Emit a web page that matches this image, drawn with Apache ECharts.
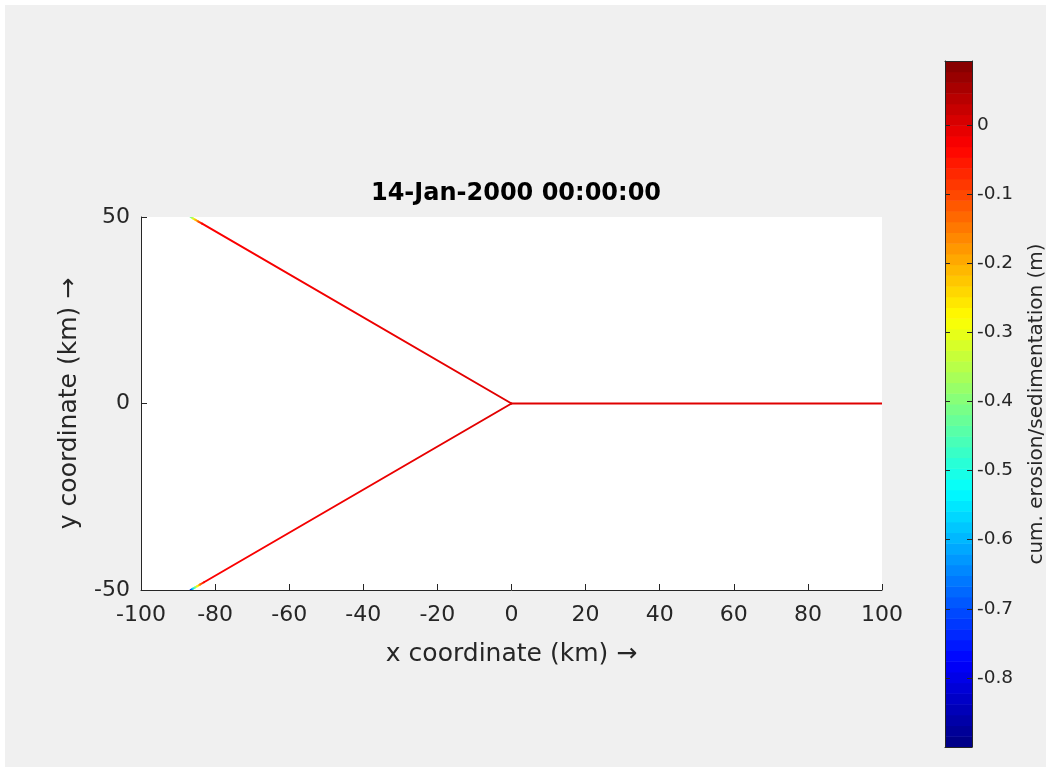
<!DOCTYPE html>
<html>
<head>
<meta charset="utf-8">
<title>cum. erosion/sedimentation</title>
<script src="https://cdn.jsdelivr.net/npm/echarts@6/dist/echarts.min.js"></script>
<style>
  html, body { margin: 0; padding: 0; background: #ffffff; }
  #chart { width: 1051px; height: 772px; }
</style>
</head>
<body>
<div id="chart"></div>
<script>
// data (km, and m for the colour value)
var upperX = [0, -83.5, -84.5, -85.3, -86.0, -86.6];
var upperY = [0, 48.21, 48.79, 49.25, 49.65, 50.0];
var upperV = [0, -0.03, -0.12, -0.22, -0.32, -0.42];

var lowerX = [0, -83.0, -84.0, -84.8, -85.5, -86.1, -86.6];
var lowerY = [0, -47.92, -48.50, -48.96, -49.36, -49.71, -50.0];
var lowerV = [0, -0.03, -0.13, -0.27, -0.42, -0.57, -0.75];

var rightX = [0, 100];
var rightY = [0, 0];
var rightV = [0, 0];

// colour limits and colorbar ticks
var cMin = -0.9;
var cMax = 0.0926;
var nLevels = 64;
var jetColors = ['#000080', '#0000ff', '#0080ff', '#00ffff', '#80ff80', '#ffff00', '#ff8000', '#ff0000', '#800000'];

function hexRgb(h) {
  return [parseInt(h.substr(1, 2), 16), parseInt(h.substr(3, 2), 16), parseInt(h.substr(5, 2), 16)];
}
function jet(v) {
  var t = (v - cMin) / (cMax - cMin);
  t = Math.max(0, Math.min(1, t));
  var p = t * (jetColors.length - 1);
  var i = Math.min(Math.floor(p), jetColors.length - 2);
  var f = p - i;
  var a = hexRgb(jetColors[i]), b = hexRgb(jetColors[i + 1]);
  return 'rgb(' + Math.round(a[0] + (b[0] - a[0]) * f) + ',' +
    Math.round(a[1] + (b[1] - a[1]) * f) + ',' +
    Math.round(a[2] + (b[2] - a[2]) * f) + ')';
}

// segments [x1, y1, x2, y2, v1, v2]
var segs = [];
function addBranch(xs, ys, vs) {
  for (var i = 0; i < xs.length - 1; i++) {
    segs.push([xs[i], ys[i], xs[i + 1], ys[i + 1], vs[i], vs[i + 1]]);
  }
}
addBranch(upperX, upperY, upperV);
addBranch(lowerX, lowerY, lowerV);
addBranch(rightX, rightY, rightV);

// colorbar bands
var bands = [];
for (var k = 0; k < nLevels; k++) {
  var lo = cMin + (cMax - cMin) * k / nLevels;
  var hi = cMin + (cMax - cMin) * (k + 1) / nLevels;
  bands.push([lo, hi, (lo + hi) / 2]);
}

var axisCol = '#262626';
var chart = echarts.init(document.getElementById('chart'));

var option = {
  backgroundColor: '#ffffff',
  animation: false,
  textStyle: { fontFamily: 'DejaVu Sans' },
  title: {
    text: '14-Jan-2000 00:00:00',
    left: 511,
    textAlign: 'center',
    top: 177,
    textStyle: { fontFamily: 'DejaVu Sans', fontSize: 24, fontWeight: 'bold', color: '#000' }
  },
  grid: [
    { left: 141, top: 217, width: 741, height: 373, show: true, backgroundColor: '#fff', borderWidth: 0 },
    { left: 945, top: 61, width: 27, height: 686 }
  ],
  xAxis: [
    {
      gridIndex: 0, type: 'value', min: -100, max: 100, interval: 20,
      position: 'bottom',
      name: 'x coordinate (km) \u2192', nameLocation: 'middle', nameGap: 52,
      nameTextStyle: { fontSize: 25, color: axisCol },
      axisLine: { show: true, onZero: false, lineStyle: { color: axisCol, width: 1 } },
      axisTick: { show: true, inside: true, length: 6, lineStyle: { color: axisCol } },
      axisLabel: { fontSize: 22, color: axisCol, margin: 14 },
      splitLine: { show: false }
    },
    {
      gridIndex: 1, type: 'value', min: 0, max: 1, position: 'bottom', z: 10,
      axisLine: { show: true, onZero: false, lineStyle: { color: axisCol } },
      axisTick: { show: false }, axisLabel: { show: false }, splitLine: { show: false }
    },
    {
      gridIndex: 1, type: 'value', min: 0, max: 1, position: 'top', z: 10,
      axisLine: { show: true, onZero: false, lineStyle: { color: axisCol } },
      axisTick: { show: false }, axisLabel: { show: false }, splitLine: { show: false }
    }
  ],
  yAxis: [
    {
      gridIndex: 0, type: 'value', min: -50, max: 50, interval: 50,
      position: 'left',
      name: 'y coordinate (km) \u2192', nameLocation: 'middle', nameGap: 59, nameRotate: 90,
      nameTextStyle: { fontSize: 25, color: axisCol },
      axisLine: { show: true, onZero: false, lineStyle: { color: axisCol, width: 1 } },
      axisTick: { show: true, inside: true, length: 6, lineStyle: { color: axisCol } },
      axisLabel: { fontSize: 22, color: axisCol, margin: 11 },
      splitLine: { show: false }
    },
    {
      gridIndex: 1, type: 'value', min: cMin, max: cMax, interval: 0.1,
      position: 'right', z: 10,
      axisLine: { show: true, onZero: false, lineStyle: { color: axisCol } },
      axisTick: { show: true, inside: true, length: 5, lineStyle: { color: axisCol } },
      axisLabel: { fontSize: 18.5, color: axisCol, margin: 5, showMinLabel: false, showMaxLabel: false },
      splitLine: { show: false }
    },
    {
      gridIndex: 1, type: 'value', min: cMin, max: cMax, interval: 0.1,
      position: 'left', z: 10,
      axisLine: { show: true, onZero: false, lineStyle: { color: axisCol } },
      axisTick: { show: true, inside: true, length: 5, lineStyle: { color: axisCol } },
      axisLabel: { show: false },
      splitLine: { show: false }
    }
  ],
  graphic: [
    {
      // grey figure area inside a thin white window border
      type: 'rect',
      z: -10,
      silent: true,
      shape: { x: 5, y: 5, width: 1041, height: 762 },
      style: { fill: '#f0f0f0' }
    },
    {
      type: 'text',
      x: 1037, y: 404,
      rotation: Math.PI / 2,
      style: {
        text: 'cum. erosion/sedimentation (m)',
        font: '20px "DejaVu Sans"',
        fill: axisCol,
        textAlign: 'center',
        textVerticalAlign: 'middle'
      }
    }
  ],
  series: [
    {
      type: 'custom',
      xAxisIndex: 0, yAxisIndex: 0,
      data: segs,
      encode: { x: [0, 2], y: [1, 3] },
      clip: true,
      renderItem: function (params, api) {
        var p1 = api.coord([api.value(0), api.value(1)]);
        var p2 = api.coord([api.value(2), api.value(3)]);
        var c1 = jet(api.value(4)), c2 = jet(api.value(5));
        return {
          type: 'line',
          shape: { x1: p1[0], y1: p1[1], x2: p2[0], y2: p2[1] },
          style: {
            stroke: new echarts.graphic.LinearGradient(p1[0], p1[1], p2[0], p2[1],
              [{ offset: 0, color: c1 }, { offset: 1, color: c2 }], true),
            lineWidth: 2,
            lineCap: 'round'
          }
        };
      }
    },
    {
      type: 'custom',
      xAxisIndex: 1, yAxisIndex: 1,
      data: bands,
      encode: { y: [0, 1] },
      renderItem: function (params, api) {
        var a = api.coord([0, api.value(1)]);
        var b = api.coord([1, api.value(0)]);
        return {
          type: 'rect',
          shape: { x: a[0], y: a[1], width: b[0] - a[0], height: b[1] - a[1] + 0.5 },
          style: { fill: jet(api.value(2)) }
        };
      }
    }
  ]
};

chart.setOption(option);
window.addEventListener('resize', function () {
  chart.resize();
});
</script>
</body>
</html>
